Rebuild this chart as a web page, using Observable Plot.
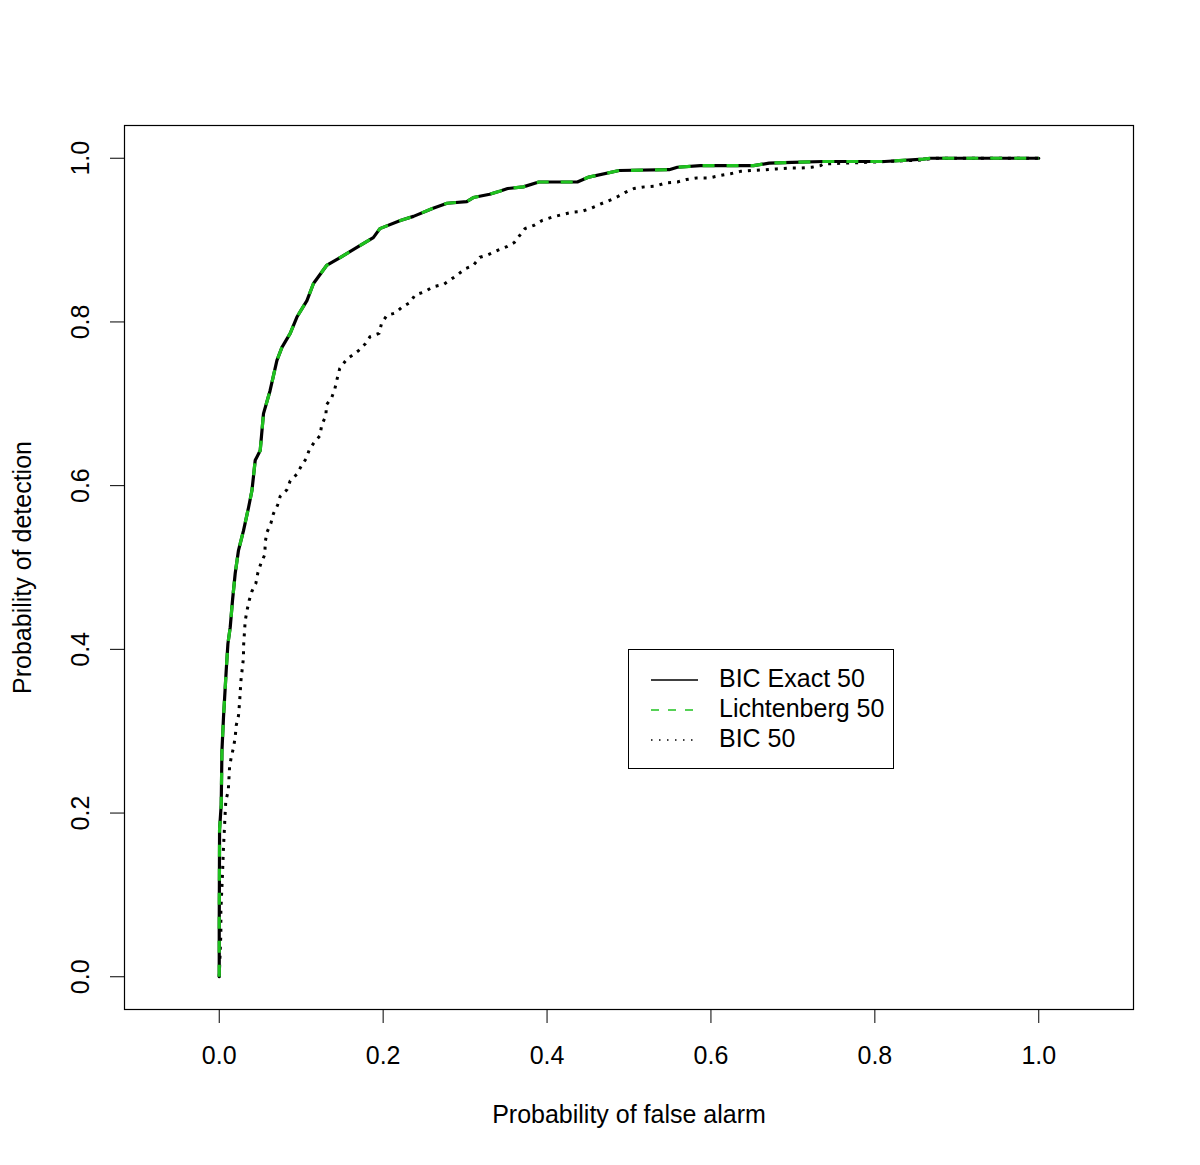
<!DOCTYPE html>
<html><head><meta charset="utf-8">
<script src="https://cdn.jsdelivr.net/npm/d3@7"></script>
<script src="https://cdn.jsdelivr.net/npm/@observablehq/plot@0.6"></script>
<style>
body{margin:0;background:#fff;}
#wrap{position:relative;width:1200px;height:1165px;font-family:"Liberation Sans",Arial,Helvetica,sans-serif;}
#legend{position:absolute;left:628px;top:649px;width:264px;height:118px;border:1px solid #000;background:#fff;}
</style>
</head><body><div id="wrap"></div>
<script>
const xTicks = [0, 0.2, 0.4, 0.6, 0.8, 1.0];
const yTicks = [0, 0.2, 0.4, 0.6, 0.8, 1.0];
const xTitle = "Probability of false alarm";
const yTitle = "Probability of detection";
const seriesNames = ["BIC Exact 50", "Lichtenberg 50", "BIC 50"];
const seriesColors = ["#000000", "#1fc21f", "#000000"];

const exactFA = [0,0,0.0004,0.0024,0.0033,0.0052,0.0085,0.0106,0.0134,0.0162,0.0195,0.0235,0.0296,0.0357,0.0399,0.0439,0.05,0.054,0.062,0.0704,0.0765,0.0866,0.0948,0.107,0.115,0.131,0.148,0.168,0.188,0.196,0.221,0.237,0.261,0.278,0.302,0.31,0.33,0.343,0.352,0.371,0.39,0.437,0.451,0.488,0.549,0.559,0.587,0.652,0.671,0.699,0.737,0.812,0.859,0.868,1.0];
const exactPD = [0,0.065,0.18,0.21,0.276,0.317,0.374,0.407,0.427,0.46,0.493,0.521,0.545,0.573,0.594,0.631,0.643,0.688,0.716,0.753,0.769,0.786,0.806,0.826,0.847,0.869,0.879,0.891,0.903,0.914,0.924,0.929,0.939,0.945,0.947,0.952,0.956,0.96,0.963,0.965,0.971,0.971,0.977,0.985,0.986,0.989,0.991,0.991,0.994,0.995,0.996,0.996,0.999,1.0,1.0];

const lichtFA = [0,0,0.0004,0.0024,0.0033,0.0052,0.0085,0.0106,0.0134,0.0162,0.0195,0.0235,0.0296,0.0357,0.0399,0.0439,0.05,0.054,0.062,0.0704,0.0765,0.0866,0.0948,0.107,0.115,0.131,0.148,0.168,0.188,0.196,0.221,0.237,0.261,0.278,0.302,0.31,0.33,0.343,0.352,0.371,0.39,0.437,0.451,0.488,0.549,0.559,0.587,0.652,0.671,0.699,0.737,0.812,0.859,0.868,1.0];
const lichtPD = [0,0.065,0.18,0.21,0.276,0.317,0.374,0.407,0.427,0.46,0.493,0.521,0.545,0.573,0.594,0.631,0.643,0.688,0.716,0.753,0.769,0.786,0.806,0.826,0.847,0.869,0.879,0.891,0.903,0.914,0.924,0.929,0.939,0.945,0.947,0.952,0.956,0.96,0.963,0.965,0.971,0.971,0.977,0.985,0.986,0.989,0.991,0.991,0.994,0.995,0.996,0.996,0.999,1.0,1.0];

const bicFA = [0,0.002,0.002,0.004,0.005,0.0065,0.008,0.011,0.0126,0.0146,
0.0174,0.0195,0.0207,0.0235,0.0248,0.0265,0.0296,0.0296,0.0317,0.0338,
0.0366,0.0399,0.0448,0.0472,0.0509,0.0557,0.0561,0.0582,0.063,0.0662,
0.0711,0.0744,0.0826,0.0866,0.0948,0.0996,0.106,0.11,0.116,0.123,
0.125,0.13,0.131,0.137,0.141,0.144,0.147,0.156,0.162,0.17,
0.178,0.184,0.195,0.198,0.2045,0.215,0.223,0.233,0.239,0.251,
0.261,0.274,0.29,0.3,0.31,0.318,0.328,0.341,0.351,0.36,
0.373,0.384,0.394,0.406,0.418,0.43,0.442,0.454,0.465,0.475,
0.486,0.495,0.506,0.519,0.533,0.545,0.559,0.57,0.583,0.598,
0.612,0.624,0.636,0.65,0.666,0.68,0.695,0.709,0.723,0.734,
0.737,0.79,0.86,0.87,1.0];
const bicPD = [0,0.053,0.081,0.126,0.154,0.185,0.215,0.227,0.256,0.268,
0.28,0.293,0.307,0.319,0.335,0.362,0.39,0.403,0.435,0.447,
0.46,0.471,0.481,0.494,0.505,0.516,0.531,0.543,0.554,0.566,
0.576,0.587,0.595,0.606,0.614,0.623,0.633,0.644,0.653,0.661,
0.674,0.685,0.699,0.707,0.718,0.731,0.743,0.755,0.759,0.765,
0.773,0.782,0.786,0.798,0.808,0.811,0.818,0.824,0.833,0.837,
0.843,0.846,0.857,0.865,0.869,0.879,0.882,0.888,0.892,0.897,
0.914,0.918,0.924,0.928,0.931,0.934,0.935,0.939,0.944,0.948,
0.953,0.958,0.963,0.965,0.966,0.97,0.971,0.974,0.976,0.976,
0.979,0.981,0.984,0.985,0.986,0.987,0.988,0.988,0.989,0.991,
0.993,0.995,0.998,1.0,1.0];

const toPts = (xs, ys) => xs.map((x, i) => ({x, y: ys[i]}));
const exact = toPts(exactFA, exactPD);
const licht = toPts(lichtFA, lichtPD);
const bic = toPts(bicFA, bicPD);

const FS = 25;
const fmt = d3.format(".1f");

const chart = Plot.plot({
  width: 1200, height: 1165,
  marginLeft: 124, marginRight: 67, marginTop: 125, marginBottom: 156,
  style: {fontFamily: '"Liberation Sans",Arial,Helvetica,sans-serif', background: "#fff", overflow: "visible"},
  x: {domain: [-0.1156, 1.1156]},
  y: {domain: [-0.04, 1.04]},
  marks: [
    Plot.axisX({ticks: xTicks, tickSize: 14, tickFormat: () => "", label: null, stroke: "#000", strokeWidth: 1}),
    Plot.axisY({ticks: yTicks, tickSize: 14, tickFormat: () => "", label: null, stroke: "#000", strokeWidth: 1}),
    Plot.text(xTicks, {x: d => d, text: d => fmt(d), frameAnchor: "bottom", dy: 46.6, lineAnchor: "middle", textAnchor: "middle", fontSize: FS, fill: "#000"}),
    Plot.text(yTicks, {y: d => d, text: d => fmt(d), frameAnchor: "left", dx: -43.4, rotate: -90, lineAnchor: "middle", textAnchor: "middle", fontSize: FS, fill: "#000"}),
    Plot.text([xTitle], {text: d => d, frameAnchor: "bottom", dy: 105, lineAnchor: "middle", textAnchor: "middle", fontSize: FS, fill: "#000"}),
    Plot.text([yTitle], {text: d => d, frameAnchor: "left", dx: -101.7, rotate: -90, lineAnchor: "middle", textAnchor: "middle", fontSize: FS, fill: "#000"}),
    Plot.line(bic, {x: "x", y: "y", stroke: seriesColors[2], strokeWidth: 3, strokeDasharray: "3,6", strokeLinecap: "butt"}),
    Plot.line(exact, {x: "x", y: "y", stroke: seriesColors[0], strokeWidth: 3.2, strokeLinejoin: "round"}),
    Plot.line(licht, {x: "x", y: "y", stroke: seriesColors[1], strokeWidth: 3.2, strokeDasharray: "12,12", strokeLinecap: "butt"}),
    Plot.frame({stroke: "#000", strokeWidth: 1.2})
  ]
});
const wrap = document.getElementById("wrap");
wrap.appendChild(chart);

// legend overlay
const leg = document.createElement("div");
leg.id = "legend";
const ns = "http://www.w3.org/2000/svg";
const lsvg = document.createElementNS(ns, "svg");
lsvg.setAttribute("width", 264); lsvg.setAttribute("height", 118);
const dashes = [null, "8,9", "1.5,6.5"];
seriesNames.forEach((name, i) => {
  const yy = 30 + i * 30;
  const ln = document.createElementNS(ns, "line");
  ln.setAttribute("x1", 22); ln.setAttribute("x2", 69);
  ln.setAttribute("y1", yy); ln.setAttribute("y2", yy);
  ln.setAttribute("stroke", seriesColors[i]); ln.setAttribute("stroke-width", 1.5);
  if (dashes[i]) ln.setAttribute("stroke-dasharray", dashes[i]);
  lsvg.appendChild(ln);
  const t = document.createElementNS(ns, "text");
  t.setAttribute("x", 90); t.setAttribute("y", yy + 7);
  t.setAttribute("font-size", FS);
  t.setAttribute("font-family", '"Liberation Sans",Arial,Helvetica,sans-serif');
  t.textContent = name;
  lsvg.appendChild(t);
});
leg.appendChild(lsvg);
wrap.appendChild(leg);
</script>
</body></html>
